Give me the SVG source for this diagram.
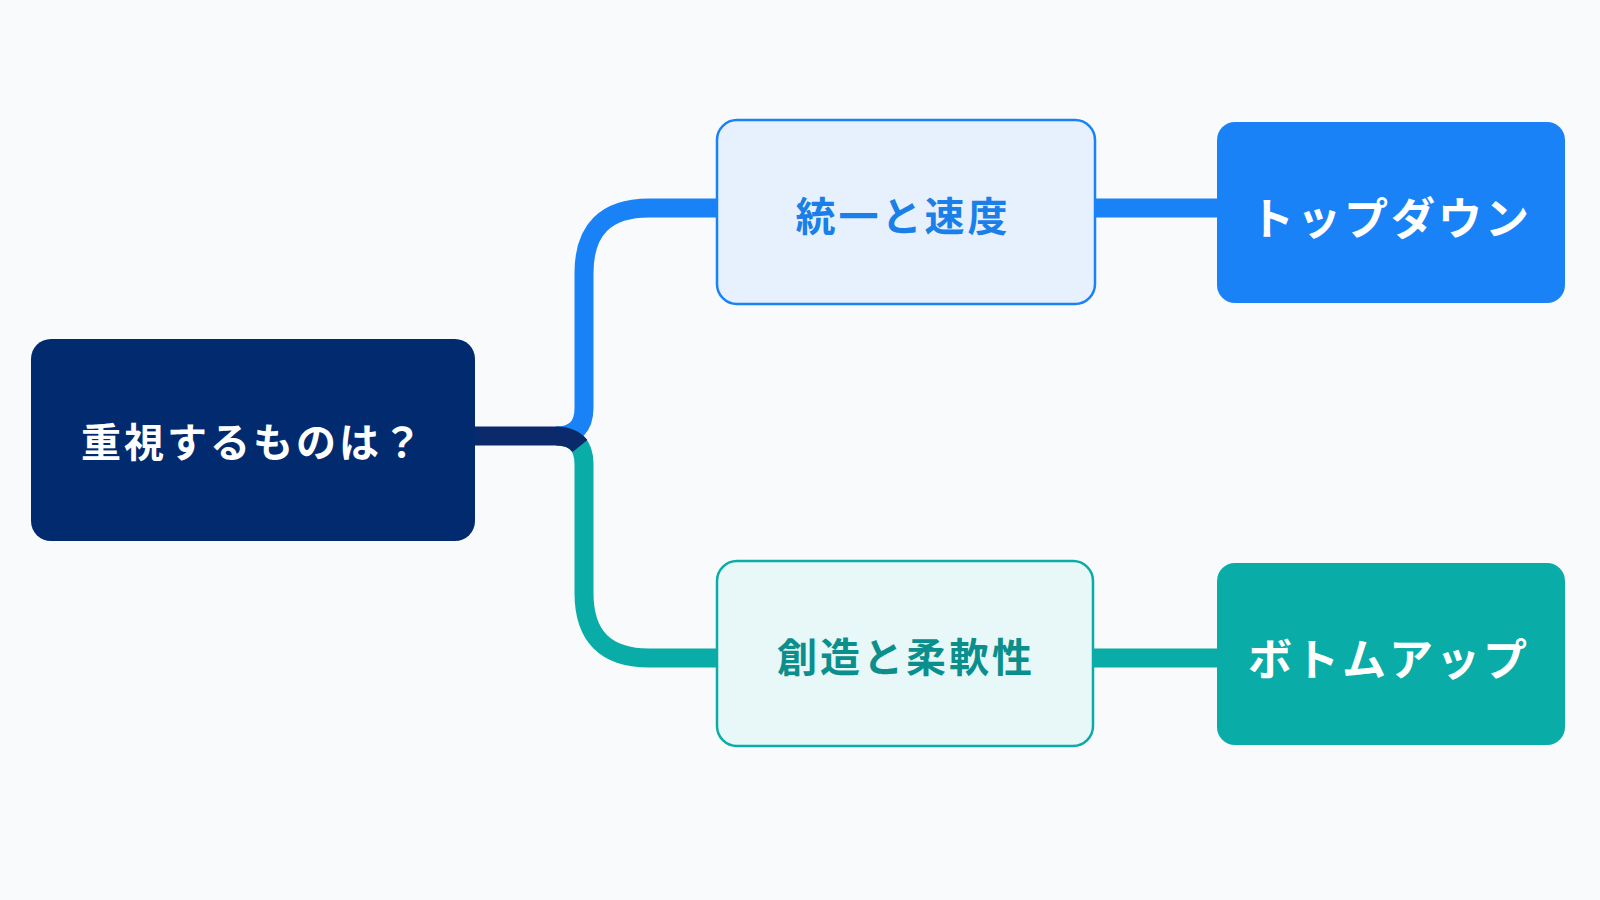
<svg xmlns="http://www.w3.org/2000/svg" width="1600" height="900" viewBox="0 0 1600 900">
<style>
text{font-family:"Noto Sans CJK JP","Noto Sans",sans-serif;font-weight:700;text-anchor:middle;dominant-baseline:central;letter-spacing:3px}
.c{fill:none;stroke-width:19}
</style>
<rect width="1600" height="900" fill="#f8fafc"/>
<g id="connectors">
<path class="c" stroke="#1a82f7" d="M556 436 Q584 436 584 408 V273 Q584 208 649 208 H720"/>
<path class="c" stroke="#0aaca8" d="M556 436 Q584 436 584 464 V593 Q584 658 649 658 H720"/>
<path class="c" stroke="#0a2a6b" d="M470 436 H556 Q572 436 580 446"/>
<path class="c" stroke="#1a82f7" d="M1090 208 H1220"/>
<path class="c" stroke="#0aaca8" d="M1090 658 H1220"/>
</g>
<g id="root"><rect x="31" y="339" width="444" height="202" rx="20" fill="#022a6e"/><text x="253" y="440" font-size="40" fill="#fff">重視するものは？</text></g>
<g id="n1"><rect x="717" y="120" width="378" height="184" rx="20" fill="#e7f1fd" stroke="#1a82f7" stroke-width="2.5"/><text x="903" y="214" font-size="40" fill="#1a7fe8">統一と速度</text></g>
<g id="n2"><rect x="717" y="561" width="376" height="185" rx="20" fill="#e8f7f8" stroke="#0aaca8" stroke-width="2.5"/><text x="906" y="655" font-size="40" fill="#0a8f8c">創造と柔軟性</text></g>
<g id="n3"><rect x="1217" y="122" width="348" height="181" rx="18" fill="#1a82f7"/><text x="1391" y="216" font-size="44" fill="#fff">トップダウン</text></g>
<g id="n4"><rect x="1217" y="563" width="348" height="182" rx="18" fill="#0aaca8"/><text x="1389" y="657" font-size="44" fill="#fff">ボトムアップ</text></g>
</svg>
